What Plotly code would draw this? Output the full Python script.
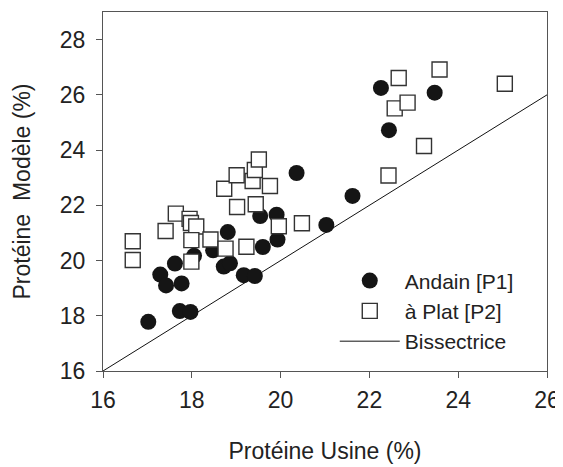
import plotly.graph_objects as go

# Andain [P1]
andain_x = [17.02, 17.73, 17.97, 17.29, 17.42, 17.62, 17.77, 18.05, 18.48, 18.72, 18.86, 18.81,
            19.17, 19.42, 19.60, 19.54, 19.91, 19.93, 20.36, 21.03, 21.62, 22.26, 22.44, 23.47]
andain_y = [17.78, 18.17, 18.14, 19.49, 19.10, 19.89, 19.17, 20.17, 20.37, 19.78, 19.90, 21.03,
            19.47, 19.44, 20.49, 21.61, 21.66, 20.76, 23.17, 21.29, 22.34, 26.25, 24.72, 26.08]

# à Plat [P2]
plat_x = [16.67, 16.67, 17.41, 17.64, 17.95, 17.98, 18.10, 17.99, 17.99, 18.42, 18.76, 18.73,
          19.01, 19.02, 19.23, 19.37, 19.42, 19.51, 19.44, 19.76, 19.96, 20.48, 22.43, 22.66,
          22.57, 22.86, 23.23, 23.58, 25.05]
plat_y = [20.70, 20.02, 21.07, 21.70, 21.51, 21.36, 21.23, 20.74, 19.96, 20.76, 20.43, 22.60,
          23.09, 21.94, 20.50, 22.88, 23.28, 23.66, 22.04, 22.70, 21.24, 21.35, 23.08, 26.61,
          25.51, 25.72, 24.15, 26.92, 26.40]

# Bissectrice
bis_x = [16, 26]
bis_y = [16, 26]

x_ticks = [16, 18, 20, 22, 24, 26]
y_ticks = [16, 18, 20, 22, 24, 26, 28]

FONT = "Liberation Sans, Arial, sans-serif"
TXT = "#222222"

fig = go.Figure()
fig.add_trace(go.Scatter(x=bis_x, y=bis_y, mode="lines", name="Bissectrice",
                         line=dict(color="#111111", width=1), legendrank=3))
fig.add_trace(go.Scatter(x=andain_x, y=andain_y, mode="markers", name="Andain [P1]",
                         marker=dict(symbol="circle", size=16, color="#151515",
                                     line=dict(color="#151515", width=0)), legendrank=1))
fig.add_trace(go.Scatter(x=plat_x, y=plat_y, mode="markers", name="à Plat [P2]",
                         marker=dict(symbol="square", size=15, color="white",
                                     line=dict(color="#333333", width=1.4)), legendrank=2))

axis_common = dict(showgrid=False, zeroline=False, showline=True, linecolor="#555555",
                   linewidth=1.2, mirror=True, ticks="outside", ticklen=6, tickwidth=1.2,
                   tickcolor="#555555", tickfont=dict(family=FONT, size=23, color=TXT),
                   automargin=False)

fig.update_xaxes(range=[16, 26], tickvals=x_ticks, ticktext=[str(v) for v in x_ticks],
                 title=dict(text="Protéine Usine (%)", font=dict(family=FONT, size=23, color=TXT),
                            standoff=31),
                 ticklabelstandoff=2, **axis_common)
fig.update_yaxes(range=[16, 29], tickvals=y_ticks, ticktext=[str(v) for v in y_ticks],
                 title=dict(text="Protéine  Modèle (%)", font=dict(family=FONT, size=23, color=TXT),
                            standoff=22),
                 ticklabelstandoff=6, **axis_common)

fig.update_layout(
    width=555, height=459,
    margin=dict(l=95, r=16, t=4, b=96),
    paper_bgcolor="white", plot_bgcolor="white",
    font=dict(family=FONT, size=23, color=TXT),
    showlegend=True,
    legend=dict(x=0.522, y=0.308, xanchor="left", yanchor="top",
                bgcolor="rgba(0,0,0,0)", font=dict(family=FONT, size=21, color=TXT),
                itemwidth=60, tracegroupgap=0),
)

fig.write_html("out.html")
